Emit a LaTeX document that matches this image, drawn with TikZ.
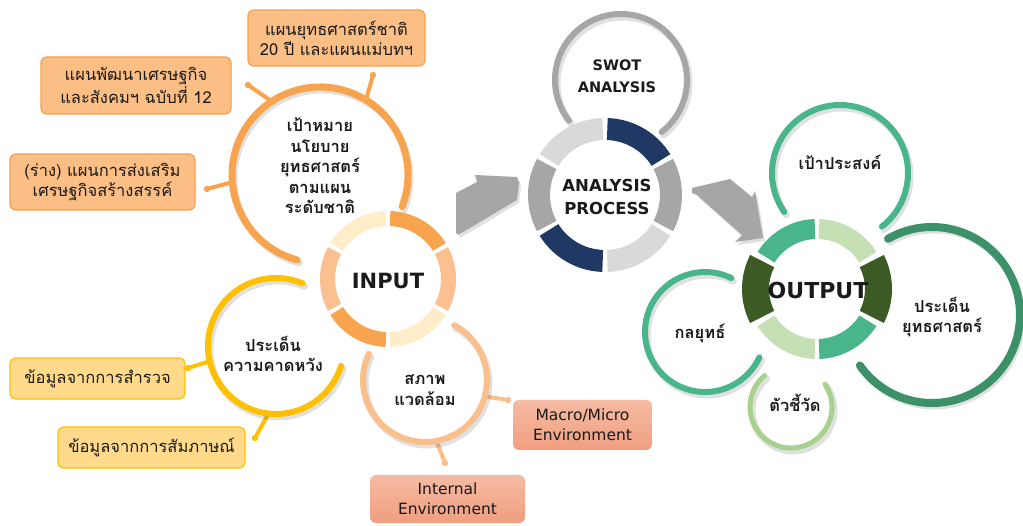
\documentclass[tikz,border=0pt]{standalone}
\usepackage{fontspec}
\setmainfont{DejaVu Sans}
\newfontfamily\thai[Script=Thai]{Loma}
\usetikzlibrary{calc}
\definecolor{ordark}{HTML}{F8A34E}
\definecolor{orcream}{HTML}{FEEDC8}
\definecolor{orlight}{HTML}{FAC08F}
\definecolor{orbox}{HTML}{FBBE84}
\definecolor{orboxline}{HTML}{F6A04D}
\definecolor{gold}{HTML}{FFC000}
\definecolor{goldbox}{HTML}{FFDA8A}
\definecolor{peach}{HTML}{FBBF8C}
\definecolor{salmontop}{HTML}{F5BBA3}
\definecolor{salmonbot}{HTML}{F09E80}
\definecolor{grayA}{HTML}{A6A6A6}
\definecolor{grayL}{HTML}{D9D9D9}
\definecolor{navy}{HTML}{1F3864}
\definecolor{gmed}{HTML}{48B58A}
\definecolor{glight}{HTML}{C5E0B4}
\definecolor{gdark}{HTML}{3C5A24}
\definecolor{gdeep}{HTML}{3C9169}
\definecolor{gpale}{HTML}{A9D18E}
\definecolor{txt}{HTML}{1A1A1A}
\newcommand{\ringseg}[6]{%
  \fill[#6] ($(#1)+(#4:#3)$) arc[start angle=#4,end angle=#5,radius=#3]
    -- ($(#1)+(#5:#2)$) arc[start angle=#5,end angle=#4,radius=#2] -- cycle;}
\newcommand{\ringarc}[5]{% center, radius, a1, a2, style
  \draw[arcshadow] ($(#1)+(#3:#2)+(2,-3)$) arc[start angle=#3,end angle=#4,radius=#2];
  \draw[#5] ($(#1)+(#3:#2)$) arc[start angle=#3,end angle=#4,radius=#2];}
\begin{document}
\begin{tikzpicture}[x=1pt,y=1pt,
  arcshadow/.style={line width=7pt,line cap=round,black,opacity=0.12},
  ringline/.style={line width=7pt,line cap=round},
  spoke/.style={line width=4pt,line cap=round},
  boxbase/.style={rounded corners=6pt,align=center,inner sep=0pt,text=txt,
     font=\thai\fontsize{16.5}{20}\selectfont},
  obox/.style={boxbase,fill=orbox,draw=orboxline,line width=1.2pt},
  ybox/.style={boxbase,fill=goldbox,draw=gold,line width=1.2pt},
  sbox/.style={boxbase,top color=salmontop,bottom color=salmonbot,draw=none,
     font=\fontsize{15.5}{20}\selectfont},
  clabel/.style={align=center,text=txt,inner sep=0pt,
     font=\thai\bfseries\fontsize{16.5}{20.5}\selectfont},
  blabel/.style={align=center,text=txt,inner sep=0pt,font=\bfseries},
  blockarrow/.style={fill=grayA}
]
\useasboundingbox (0,0) rectangle (1023,525);
\fill[white] (0,0) rectangle (1023,525);

% ---------- centres
\coordinate (oc) at (320,350);   % orange circle
\coordinate (yc) at (276,179);   % yellow circle
\coordinate (pc) at (425,145);   % peach circle
\coordinate (ic) at (388,246);   % input ring
\coordinate (ac) at (605,330);   % analysis ring
\coordinate (sc) at (621,445);   % swot circle
\coordinate (outc) at (817,236); % output ring
\coordinate (g1c) at (840,352);
\coordinate (g2c) at (932,210);
\coordinate (g3c) at (705,193);
\coordinate (g4c) at (791,118);

% ---------- boxes
\node[obox,minimum width=177,minimum height=56] (bA) at (336.5,487) {แผนยุทธศาสตร์ชาติ\\20 ปี และแผนแม่บทฯ};
\node[obox,minimum width=190,minimum height=57] (bB) at (136,439.5) {แผนพัฒนาเศรษฐกิจ\\และสังคมฯ ฉบับที่ 12};
\node[obox,minimum width=185,minimum height=56] (bC) at (102.5,343) {(ร่าง) แผนการส่งเสริม\\เศรษฐกิจสร้างสรรค์};
\node[ybox,minimum width=175,minimum height=41] (bD) at (97.5,146.5) {ข้อมูลจากการสำรวจ};
\node[ybox,minimum width=187,minimum height=41] (bE) at (151.5,77.5) {ข้อมูลจากการสัมภาษณ์};
\node[sbox,minimum width=139,minimum height=50] (bF) at (582.5,100) {Macro/Micro\\Environment};
\node[sbox,minimum width=155,minimum height=48] (bG) at (447.5,26) {Internal\\Environment};

% ---------- spokes
\coordinate (sA) at ($(oc)+(59:91)$);  \coordinate (dA) at (373,450);
\coordinate (sB) at ($(oc)+(124:91)$); \coordinate (dB) at (248,440);
\coordinate (sC) at ($(oc)+(185:91)$); \coordinate (dC) at (207,336);
\coordinate (sD) at ($(yc)+(193:70)$); \coordinate (dD) at (188,157);
\coordinate (sE) at ($(yc)+(263:70)$); \coordinate (dE) at (255,87);
\coordinate (sF) at ($(pc)+(345:64)$); \coordinate (dF) at (508,125);
\coordinate (sG) at ($(pc)+(281:64)$); \coordinate (dG) at (445,62);
\foreach \s/\d/\c in {sA/dA/ordark,sB/dB/ordark,sC/dC/ordark,sD/dD/gold,sE/dE/gold,sF/dF/peach,sG/dG/peach}{
  \draw[spoke,\c] (\s) -- (\d);
  \fill[\c] (\d) circle (3.2);
}

% ---------- input side circles
\ringarc{oc}{88}{-21}{255}{ringline,ordark}
\ringarc{yc}{68}{67}{343}{ringline,gold,line width=6pt}
\ringarc{pc}{62}{155}{422}{ringline,peach,line width=6pt}
\node[clabel] (lgoal) at ($(oc)+(0,9)$) {เป้าหมาย\\นโยบาย\\ยุทธศาสตร์\\ตามแผน\\ระดับชาติ};
\node[clabel] (lexp) at ($(yc)+(-3,-8)$) {ประเด็น\\ความคาดหวัง};
\node[clabel] (lenv) at ($(pc)+(0,-10)$) {สภาพ\\แวดล้อม};

% ---------- INPUT ring
\ringseg{ic}{53}{68}{32}{88}{ordark}
\ringseg{ic}{53}{68}{92}{148}{orcream}
\ringseg{ic}{53}{68}{152}{208}{orlight}
\ringseg{ic}{53}{68}{212}{268}{ordark}
\ringseg{ic}{53}{68}{272}{328}{orcream}
\ringseg{ic}{53}{68}{332}{388}{orlight}
\node[blabel,font=\bfseries\fontsize{21}{24}\selectfont] (input) at ($(ic)+(0,-2)$) {INPUT};

% ---------- SWOT + ANALYSIS
\ringarc{sc}{66}{-52}{218}{ringline,grayA,line width=6pt}
\node[blabel,font=\bfseries\fontsize{14.5}{22}\selectfont] (swot) at ($(sc)+(-4,4)$) {SWOT\\ANALYSIS};
\ringseg{ac}{55}{77}{32}{88}{navy}
\ringseg{ac}{55}{77}{92}{148}{grayL}
\ringseg{ac}{55}{77}{152}{208}{grayA}
\ringseg{ac}{55}{77}{212}{268}{navy}
\ringseg{ac}{55}{77}{272}{328}{grayL}
\ringseg{ac}{55}{77}{332}{388}{grayA}
\node[blabel,font=\bfseries\fontsize{16.5}{23}\selectfont] (anal) at ($(ac)+(2,-2)$) {ANALYSIS\\PROCESS};

% ---------- OUTPUT side circles
\ringarc{g1c}{68}{-52}{215}{ringline,gmed,line width=6pt}
\ringarc{g2c}{88}{-145}{120}{ringline,gdeep,line width=8pt}
\ringarc{g3c}{60}{64}{335}{ringline,gmed,line width=6pt}
\ringarc{g4c}{41}{130}{394}{ringline,gpale,line width=5pt}
\node[clabel] (lg1) at ($(g1c)+(0,11)$) {เป้าประสงค์};
\node[clabel] (lg2) at ($(g2c)+(10,-2)$) {ประเด็น\\ยุทธศาสตร์};
\node[clabel] (lg3) at ($(g3c)+(-5,-1)$) {กลยุทธ์};
\node[clabel] (lg4) at ($(g4c)+(4,4)$) {ตัวชี้วัด};

% ---------- OUTPUT ring
\ringseg{outc}{50}{70}{92}{148}{gmed}
\ringseg{outc}{50}{70}{32}{88}{glight}
\ringseg{outc}{48}{75}{-27}{27}{gdark}
\ringseg{outc}{50}{70}{272}{328}{gmed}
\ringseg{outc}{50}{70}{212}{268}{glight}
\ringseg{outc}{48}{75}{153}{207}{gdark}
\node[blabel,font=\bfseries\fontsize{22}{24}\selectfont] (output) at ($(outc)+(1,-1)$) {OUTPUT};

% ---------- block arrows
\fill[black,opacity=0.12] ([shift={(2,-3)}]456,332) -- ([shift={(2,-3)}]477,343) -- ([shift={(2,-3)}]475,350) -- ([shift={(2,-3)}]517,348) -- ([shift={(2,-3)}]519,342) -- ([shift={(2,-3)}]517,325) -- ([shift={(2,-3)}]458,290) -- cycle;
\fill[blockarrow] (456,332) -- (477,343) -- (475,350) -- (517,348) -- (519,342) -- (517,325) -- (458,290) -- (456,292) -- cycle;
\fill[black,opacity=0.12] ([shift={(2,-3)}]692,337) -- ([shift={(2,-3)}]730,346) -- ([shift={(2,-3)}]752,328) -- ([shift={(2,-3)}]755,334) -- ([shift={(2,-3)}]763,287) -- ([shift={(2,-3)}]735,283) -- ([shift={(2,-3)}]742,290) -- ([shift={(2,-3)}]697,330) -- cycle;
\fill[blockarrow] (692,337) -- (730,346) -- (752,328) -- (755,334) -- (763,287) -- (735,283) -- (742,290) -- (697,330) -- (692,332) -- cycle;
\end{tikzpicture}
\end{document}
